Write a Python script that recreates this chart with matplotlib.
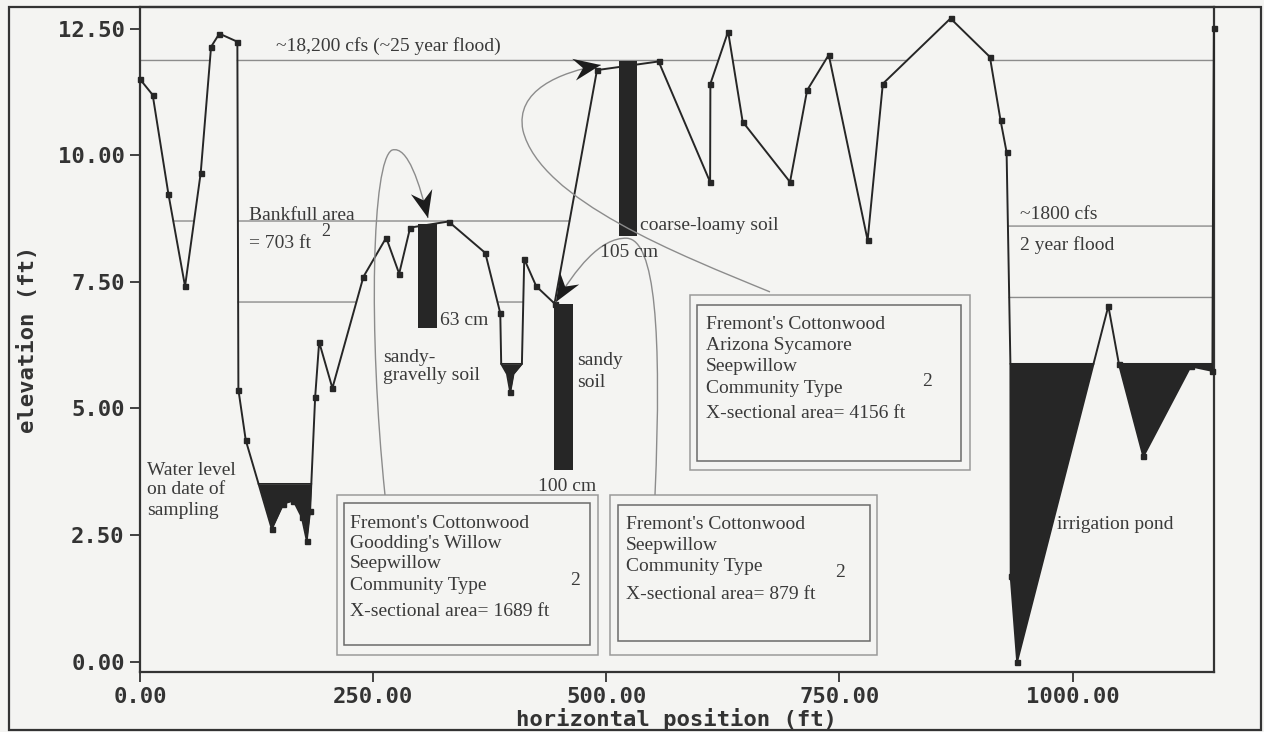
import numpy as np
import matplotlib
matplotlib.use("Agg")
import matplotlib.pyplot as plt
from matplotlib.path import Path
from matplotlib.patches import PathPatch, Rectangle, Polygon

# ---------------------------------------------------------------- data
# Surveyed ground profile: horizontal station (ft) and elevation (ft)
station_ft = [0.0, 13.6, 30.4, 48.3, 65.1, 76.2, 85.1, 104.4, 105.5, 113.4,
              141.3, 153.8, 164.5, 173.5, 178.8, 182.4, 187.8, 192.1, 206.3,
              239.6, 264.0, 277.9, 289.7, 330.8, 370.2, 386.3, 387.3, 393.5,
              397.0, 400.5, 409.5, 412.0, 424.9, 444.5, 490.0, 556.1, 611.3,
              611.6, 630.6, 646.2, 697.0, 715.3, 738.5, 780.2, 796.5, 869.1,
              911.3, 922.7, 929.2, 933.3, 933.6, 940.5, 1038.3, 1049.7,
              1075.8, 1126.6, 1149.9, 1150.5, 1151.5]
elevation_ft = [11.50, 11.19, 9.24, 7.41, 9.65, 12.14, 12.40, 12.24, 5.37, 4.37,
                2.62, 3.12, 3.18, 2.85, 2.39, 2.98, 5.22, 6.31, 5.40,
                7.60, 8.37, 7.66, 8.57, 8.69, 8.07, 6.88, 5.88, 5.68,
                5.32, 5.68, 5.88, 7.95, 7.41, 7.07, 11.68, 11.85, 9.47,
                11.41, 12.44, 10.66, 9.47, 11.28, 11.98, 8.32, 11.41, 12.70,
                11.94, 10.69, 10.06, 5.87, 1.68, 0.00, 7.02, 5.87,
                4.05, 5.83, 5.74, 9.05, 12.52]

# Flow stages (ft) with the station range (ft) over which each is drawn
stage_level = [11.87, 8.70, 7.10, 8.60, 7.19]
stage_from = [0.0, 0.0, 0.0, 925.0, 925.0]
stage_to = [1152.0, 500.0, 500.0, 1152.0, 1152.0]

# Standing water on the sampling date: stage (ft) and station range (ft)
water_level = [3.51, 5.88, 5.88]
water_from = [110.0, 380.0, 925.0]
water_to = [190.0, 415.0, 1152.0]

# Soil pits: station (ft), ground surface (ft), depth (cm)
pit_station = [308.0, 454.4, 523.1]
pit_surface = [8.65, 7.07, 11.85]
pit_depth_cm = [63, 100, 105]

x_ticks = [0, 250, 500, 750, 1000]
y_ticks = [0.0, 2.5, 5.0, 7.5, 10.0, 12.5]

# ---------------------------------------------------------------- style
BG = "#f4f4f2"
INK = "#262626"
TXT = "#3a3a3a"
GREY = "#8c8c8c"
SERIF = ["Liberation Serif", "DejaVu Serif"]
MONO = ["DejaVu Sans Mono"]

fig = plt.figure(figsize=(12.64, 7.32), dpi=100, facecolor=BG)
W, H = 1264.0, 732.0
ax = fig.add_axes([140 / W, 1 - 671.7 / H, (1214 - 140) / W, (671.7 - 7.3) / H])
ax.set_facecolor(BG)
ax.set_xlim(0, 1151.6)
ax.set_ylim(-0.20, 12.92)

# outer frame around the whole figure
fig.add_artist(Rectangle((9 / W, 2 / H), (1261 - 9) / W, (725 - 2) / H,
                         transform=fig.transFigure, fill=False,
                         edgecolor="#333333", linewidth=1.6))

for s in ax.spines.values():
    s.set_color("#333333")
    s.set_linewidth(1.6)

ax.set_xticks(x_ticks)
ax.set_xticklabels([f"{v:.2f}" for v in x_ticks])
ax.set_yticks(y_ticks)
ax.set_yticklabels([f"{v:.2f}" for v in y_ticks])
ax.tick_params(direction="out", length=7, width=1.3, color="#333333",
               labelcolor="#333333", pad=4)
for lab in ax.get_xticklabels() + ax.get_yticklabels():
    lab.set_family(MONO)
    lab.set_fontweight("bold")
    lab.set_fontsize(16)

ax.set_xlabel("horizontal position (ft)", family=MONO, fontweight="bold",
              fontsize=16, color="#333333", labelpad=1)
ax.set_ylabel("elevation (ft)", family=MONO, fontweight="bold",
              fontsize=16, color="#333333", labelpad=14)

# ---------------------------------------------------------------- profile
sx = np.array(station_ft)
sy = np.array(elevation_ft)
fine_x = np.linspace(0, 1151.5, 46000)
fine_y = np.interp(fine_x, sx, sy)

# stage lines, shown only where the ground lies below the stage
for lvl, a, b in zip(stage_level, stage_from, stage_to):
    show = (fine_y < lvl) & (fine_x >= a) & (fine_x <= b)
    ax.plot(fine_x, np.where(show, lvl, np.nan), color=GREY, lw=1.0, zorder=2)

# standing water
for lvl, a, b in zip(water_level, water_from, water_to):
    inside = (fine_x >= a) & (fine_x <= b)
    ax.fill_between(fine_x, fine_y, lvl, where=inside & (fine_y < lvl),
                    interpolate=True, color=INK, linewidth=0, zorder=3)
    show = inside & (fine_y <= lvl)
    ax.plot(fine_x, np.where(show, lvl, np.nan), color=INK, lw=1.2, zorder=3)

ax.plot(sx, sy, color=INK, lw=1.4, zorder=5, clip_on=False)
marked = [i for i in range(len(sx)) if i not in (26, 27, 29, 30, 49, 57)]
ax.plot(sx[marked], sy[marked], ls="none", marker="s", ms=3.6, mfc=INK,
        mec=INK, zorder=5, clip_on=False)

# soil pits
depth_ft = np.array(pit_depth_cm) / 30.48
ax.bar(pit_station, -depth_ft, bottom=pit_surface, width=20, color=INK,
       linewidth=0, zorder=4)

# ---------------------------------------------------------------- labels
def label(x, y, s, size=14, **kw):
    ax.text(x, y, s, family=SERIF, fontsize=size, color=TXT, va="center",
            ha="left", zorder=7, **kw)

label(145.8, 12.15, "~18,200 cfs (~25 year flood)")
label(116.9, 8.80, "Bankfull area")
label(116.9, 8.26, "= 703 ft")
label(194.0, 8.50, "2", size=13)
label(321.6, 6.74, "63 cm")
label(260.5, 6.01, "sandy-")
label(260.5, 5.64, "gravelly soil")
label(468.5, 5.95, "sandy")
label(468.5, 5.52, "soil")
label(426.7, 3.45, "100 cm")
label(536.1, 8.62, "coarse-loamy soil")
label(493.2, 8.08, "105 cm")
label(943.5, 8.83, "~1800 cfs")
label(943.5, 8.22, "2 year flood")
label(983.2, 2.71, "irrigation pond")
label(7.5, 3.78, "Water level")
label(7.5, 3.39, "on date of")
label(7.5, 2.99, "sampling")

# community-type boxes
def box(x0, x1, y0, y1, xi0, xi1, yi0, yi1):
    ax.add_patch(Rectangle((x0, y0), x1 - x0, y1 - y0, facecolor=BG,
                           edgecolor="#9a9a9a", lw=1.1, zorder=6))
    ax.add_patch(Rectangle((xi0, yi0), xi1 - xi0, yi1 - yi0, fill=False,
                           edgecolor="#6a6a6a", lw=1.1, zorder=6))

box(211.2, 491.0, 0.13, 3.29, 218.7, 482.5, 0.33, 3.13)
for y, s in zip([2.73, 2.34, 1.94, 1.51, 0.98],
                ["Fremont's Cottonwood", "Goodding's Willow", "Seepwillow",
                 "Community Type", "X-sectional area= 1689 ft"]):
    label(225.2, y, s)
label(461.0, 1.60, "2")

box(503.9, 790.2, 0.13, 3.29, 512.5, 782.7, 0.40, 3.10)
for y, s in zip([2.71, 2.30, 1.87, 1.33],
                ["Fremont's Cottonwood", "Seepwillow", "Community Type",
                 "X-sectional area= 879 ft"]):
    label(521.1, y, s)
label(745.1, 1.75, "2")

box(589.7, 889.9, 3.78, 7.24, 597.2, 880.2, 3.96, 7.04)
for y, s in zip([6.66, 6.25, 5.83, 5.40, 4.89],
                ["Fremont's Cottonwood", "Arizona Sycamore", "Seepwillow",
                 "Community Type", "X-sectional area= 4156 ft"]):
    label(606.8, y, s)
label(838.4, 5.54, "2")

# ---------------------------------------------------------------- leaders
C4 = Path.CURVE4
leaders = [
    [(262.7, 3.29), (244.5, 6.54), (248.7, 9.90), (270.2, 10.10),
     (287.3, 10.20), (300.2, 9.41), (308.8, 8.76)],
    [(552.2, 3.29), (559.7, 6.54), (552.2, 8.32), (522.1, 8.36),
     (493.2, 8.38), (466.4, 7.73), (446.0, 7.10)],
    [(675.5, 7.30), (579.0, 8.03), (428.9, 9.11), (410.6, 10.49),
     (402.1, 11.28), (450.3, 11.64), (494.0, 11.78)],
]
codes = [Path.MOVETO, C4, C4, C4, C4, C4, C4]
for pts in leaders:
    ax.add_patch(PathPatch(Path(pts, codes), fill=False, edgecolor=GREY,
                           lw=1.0, zorder=6))


def arrow_head(tip, tail, length=27.0, half=11.0, notch=9.0):
    t = ax.transData.transform(tip)
    b = ax.transData.transform(tail)
    d = (t - b) / np.hypot(*(t - b))
    n = np.array([-d[1], d[0]])
    base = t - d * length
    pts = [t, base + n * half, t - d * (length - notch), base - n * half]
    ax.add_patch(Polygon(pts, closed=True, transform=None, facecolor="#1c1c1c",
                         edgecolor="none", zorder=8))


for pts in leaders:
    arrow_head(np.array(pts[-1]), np.array(pts[-2]))

fig.savefig("out.png", dpi=100, facecolor=BG)
